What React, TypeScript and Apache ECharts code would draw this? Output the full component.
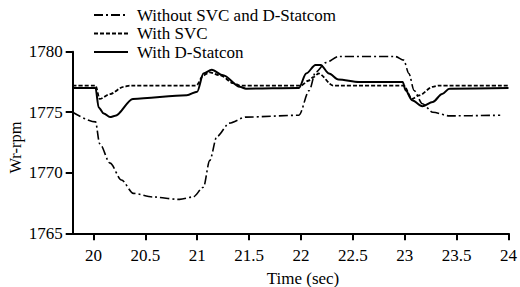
import React, { useEffect, useRef } from "react";
import * as echarts from "echarts";

const xTicks = [20, 20.5, 21, 21.5, 22, 22.5, 23, 23.5, 24];
const yTicks = [1765, 1770, 1775, 1780];

const seriesNames = ["Without SVC and D-Statcom", "With SVC", "With D-Statcon"];

const tNone = [19.8, 20.02, 20.06, 20.16, 20.27, 20.385, 20.57, 20.83, 20.96, 21.06, 21.12, 21.19, 21.31, 21.47, 21.98, 22.08, 22.14, 22.24, 22.36, 22.91, 22.99, 23.04, 23.09, 23.17, 23.27, 23.43, 23.92];
const vNone = [1775.0, 1774.2, 1772.4, 1770.8, 1769.4, 1768.3, 1768.0, 1767.8, 1768.0, 1768.8, 1771.0, 1773.0, 1774.1, 1774.6, 1774.75, 1776.8, 1778.3, 1779.1, 1779.6, 1779.6, 1779.3, 1778.2, 1776.8, 1775.7, 1775.0, 1774.7, 1774.75];

const tSvc = [19.8, 20.02, 20.06, 20.16, 20.29, 20.35, 20.99, 21.06, 21.12, 21.22, 21.35, 21.41, 22.0, 22.07, 22.12, 22.17, 22.31, 22.36, 22.99, 23.07, 23.14, 23.27, 23.33, 24.0];
const vSvc = [1777.2, 1777.2, 1776.1, 1776.5, 1777.1, 1777.2, 1777.2, 1778.05, 1778.3, 1778.05, 1777.4, 1777.2, 1777.2, 1777.6, 1777.9, 1778.2, 1777.2, 1777.2, 1777.2, 1776.1, 1776.4, 1777.1, 1777.2, 1777.2];

const tStat = [19.8, 20.02, 20.05, 20.1, 20.16, 20.21, 20.38, 20.9, 21.0, 21.06, 21.14, 21.25, 21.41, 21.47, 21.98, 22.05, 22.14, 22.19, 22.27, 22.36, 22.56, 22.98, 23.01, 23.07, 23.17, 23.27, 23.36, 23.43, 24.0];
const vStat = [1777.0, 1777.0, 1775.4, 1774.9, 1774.6, 1774.7, 1776.1, 1776.4, 1776.7, 1778.2, 1778.5, 1778.05, 1777.1, 1776.95, 1777.0, 1778.2, 1778.9, 1778.9, 1778.2, 1777.7, 1777.5, 1777.5, 1776.8, 1776.0, 1775.5, 1775.85, 1776.5, 1776.95, 1777.0];

const pair = (t: number[], v: number[]) => t.map((x, i) => [x, v[i]]);

const FONT = "'Liberation Serif', 'Times New Roman', 'DejaVu Serif', serif";

export default function App() {
  const ref = useRef<HTMLDivElement>(null);
  useEffect(() => {
    if (!ref.current) return;
    const chart = echarts.init(ref.current, null, { renderer: "svg" });
    const lineBase = { type: "line", showSymbol: false, symbol: "none", smooth: 0.3, smoothMonotone: "x" };
    chart.setOption({
      animation: false,
      backgroundColor: "#fff",
      textStyle: { fontFamily: FONT, color: "#000" },
      grid: { left: 72.7, right: 10.7, top: 51.7, bottom: 53.7 },
      legend: {
        orient: "vertical",
        left: 93,
        top: 6.5,
        padding: 0,
        itemWidth: 34,
        itemHeight: 14,
        itemGap: 1.5,
        itemStyle: { opacity: 0 },
        textStyle: { fontFamily: FONT, fontSize: 17, color: "#000", lineHeight: 17, padding: [0, 0, 0, 4] },
        data: seriesNames,
      },
      xAxis: {
        type: "value",
        min: 19.8,
        max: 24,
        axisLine: { show: true, onZero: false, lineStyle: { color: "#000", width: 2 } },
        axisTick: { show: true, length: 7, customValues: xTicks, lineStyle: { color: "#000", width: 2 } },
        axisLabel: { customValues: xTicks, fontFamily: FONT, fontSize: 17, color: "#000", margin: 14 },
        splitLine: { show: false },
      },
      yAxis: {
        type: "value",
        min: 1765,
        max: 1780,
        interval: 5,
        axisLine: { show: true, onZero: false, lineStyle: { color: "#000", width: 2 } },
        axisTick: { show: true, length: 7, lineStyle: { color: "#000", width: 2 } },
        axisLabel: { fontFamily: FONT, fontSize: 17, color: "#000", margin: 10, formatter: (v: number) => (yTicks.includes(v) ? String(v) : "") },
        splitLine: { show: false },
      },
      graphic: [
        { type: "text", x: 303, y: 278, style: { text: "Time (sec)", font: `17px ${FONT}`, fill: "#000", align: "center", verticalAlign: "middle" } },
        { type: "text", x: 15, y: 147.5, rotation: Math.PI / 2, style: { text: "Wr-rpm", font: `16.5px ${FONT}`, fill: "#000", align: "center", verticalAlign: "middle" } },
      ],
      series: [
        { ...lineBase, name: seriesNames[0], data: pair(tNone, vNone), lineStyle: { color: "#000", width: 1.6, type: [9, 3, 2, 3] }, itemStyle: { color: "#000" } },
        { ...lineBase, name: seriesNames[1], data: pair(tSvc, vSvc), lineStyle: { color: "#000", width: 1.8, type: [4, 2] }, itemStyle: { color: "#000" } },
        { ...lineBase, name: seriesNames[2], data: pair(tStat, vStat), lineStyle: { color: "#000", width: 2 }, itemStyle: { color: "#000" } },
      ],
    });
    return () => chart.dispose();
  }, []);
  return <div ref={ref} style={{ width: 520, height: 287, position: "absolute", left: 0, top: 0 }} />;
}
